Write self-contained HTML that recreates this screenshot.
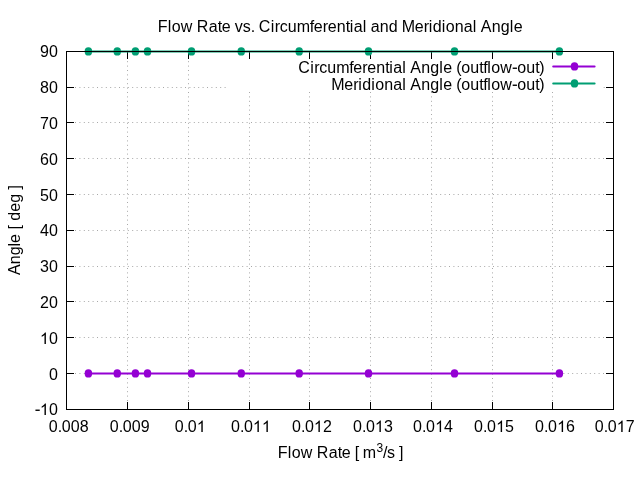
<!DOCTYPE html>
<html><head><meta charset="utf-8"><style>
html,body{margin:0;padding:0;background:#fff;}
svg{display:block;will-change:transform;}
text{font-kerning:none;}
</style></head><body>
<svg width="640" height="480" viewBox="0 0 640 480">
<rect width="640" height="480" fill="#fff"/>
<g stroke="#a8a8a8" stroke-width="1" stroke-dasharray="1 3.4"><line x1="127.5" y1="409.8" x2="127.5" y2="51"/><line x1="188.5" y1="409.8" x2="188.5" y2="51"/><line x1="249.5" y1="409.8" x2="249.5" y2="92"/><line x1="309.5" y1="409.8" x2="309.5" y2="92"/><line x1="370.5" y1="409.8" x2="370.5" y2="92"/><line x1="431.5" y1="409.8" x2="431.5" y2="92"/><line x1="492.5" y1="409.8" x2="492.5" y2="92"/><line x1="552.5" y1="409.8" x2="552.5" y2="92"/><line x1="66.2" y1="373.5" x2="613" y2="373.5"/><line x1="66.2" y1="337.5" x2="613" y2="337.5"/><line x1="66.2" y1="301.5" x2="613" y2="301.5"/><line x1="66.2" y1="266.5" x2="613" y2="266.5"/><line x1="66.2" y1="230.5" x2="613" y2="230.5"/><line x1="66.2" y1="194.5" x2="613" y2="194.5"/><line x1="66.2" y1="158.5" x2="613" y2="158.5"/><line x1="66.2" y1="122.5" x2="613" y2="122.5"/><line x1="66.2" y1="87.5" x2="226.2" y2="87.5"/><line x1="603.7" y1="87.5" x2="606" y2="87.5"/></g>
<g stroke="#000" stroke-width="1"><line x1="66.5" y1="410" x2="66.5" y2="402"/><line x1="66.5" y1="51" x2="66.5" y2="59"/><line x1="127.5" y1="410" x2="127.5" y2="402"/><line x1="127.5" y1="51" x2="127.5" y2="59"/><line x1="188.5" y1="410" x2="188.5" y2="402"/><line x1="188.5" y1="51" x2="188.5" y2="59"/><line x1="249.5" y1="410" x2="249.5" y2="402"/><line x1="249.5" y1="51" x2="249.5" y2="59"/><line x1="309.5" y1="410" x2="309.5" y2="402"/><line x1="309.5" y1="51" x2="309.5" y2="59"/><line x1="370.5" y1="410" x2="370.5" y2="402"/><line x1="370.5" y1="51" x2="370.5" y2="59"/><line x1="431.5" y1="410" x2="431.5" y2="402"/><line x1="431.5" y1="51" x2="431.5" y2="59"/><line x1="492.5" y1="410" x2="492.5" y2="402"/><line x1="492.5" y1="51" x2="492.5" y2="59"/><line x1="552.5" y1="410" x2="552.5" y2="402"/><line x1="552.5" y1="51" x2="552.5" y2="59"/><line x1="613.5" y1="410" x2="613.5" y2="402"/><line x1="613.5" y1="51" x2="613.5" y2="59"/><line x1="66" y1="409.5" x2="74" y2="409.5"/><line x1="614" y1="409.5" x2="606" y2="409.5"/><line x1="66" y1="373.5" x2="74" y2="373.5"/><line x1="614" y1="373.5" x2="606" y2="373.5"/><line x1="66" y1="337.5" x2="74" y2="337.5"/><line x1="614" y1="337.5" x2="606" y2="337.5"/><line x1="66" y1="301.5" x2="74" y2="301.5"/><line x1="614" y1="301.5" x2="606" y2="301.5"/><line x1="66" y1="266.5" x2="74" y2="266.5"/><line x1="614" y1="266.5" x2="606" y2="266.5"/><line x1="66" y1="230.5" x2="74" y2="230.5"/><line x1="614" y1="230.5" x2="606" y2="230.5"/><line x1="66" y1="194.5" x2="74" y2="194.5"/><line x1="614" y1="194.5" x2="606" y2="194.5"/><line x1="66" y1="158.5" x2="74" y2="158.5"/><line x1="614" y1="158.5" x2="606" y2="158.5"/><line x1="66" y1="122.5" x2="74" y2="122.5"/><line x1="614" y1="122.5" x2="606" y2="122.5"/><line x1="66" y1="87.5" x2="74" y2="87.5"/><line x1="614" y1="87.5" x2="606" y2="87.5"/><line x1="66" y1="51.5" x2="74" y2="51.5"/><line x1="614" y1="51.5" x2="606" y2="51.5"/></g>
<line x1="88.4" y1="373.5" x2="559.4" y2="373.5" stroke="#9400d3" stroke-width="2"/>
<ellipse cx="88.4" cy="373.4" rx="3.75" ry="4.2" fill="#9400d3"/><ellipse cx="117.25" cy="373.4" rx="3.75" ry="4.2" fill="#9400d3"/><ellipse cx="135.4" cy="373.4" rx="3.75" ry="4.2" fill="#9400d3"/><ellipse cx="147.5" cy="373.4" rx="3.75" ry="4.2" fill="#9400d3"/><ellipse cx="191.5" cy="373.4" rx="3.75" ry="4.2" fill="#9400d3"/><ellipse cx="241.25" cy="373.4" rx="3.75" ry="4.2" fill="#9400d3"/><ellipse cx="299.2" cy="373.4" rx="3.75" ry="4.2" fill="#9400d3"/><ellipse cx="368.5" cy="373.4" rx="3.75" ry="4.2" fill="#9400d3"/><ellipse cx="454.5" cy="373.4" rx="3.75" ry="4.2" fill="#9400d3"/><ellipse cx="559.4" cy="373.4" rx="3.75" ry="4.2" fill="#9400d3"/>
<line x1="88.4" y1="51.5" x2="559.4" y2="51.5" stroke="#009e73" stroke-width="2"/>
<ellipse cx="88.4" cy="51.4" rx="3.75" ry="4.2" fill="#009e73"/><ellipse cx="117.25" cy="51.4" rx="3.75" ry="4.2" fill="#009e73"/><ellipse cx="135.4" cy="51.4" rx="3.75" ry="4.2" fill="#009e73"/><ellipse cx="147.5" cy="51.4" rx="3.75" ry="4.2" fill="#009e73"/><ellipse cx="191.5" cy="51.4" rx="3.75" ry="4.2" fill="#009e73"/><ellipse cx="241.25" cy="51.4" rx="3.75" ry="4.2" fill="#009e73"/><ellipse cx="299.2" cy="51.4" rx="3.75" ry="4.2" fill="#009e73"/><ellipse cx="368.5" cy="51.4" rx="3.75" ry="4.2" fill="#009e73"/><ellipse cx="454.5" cy="51.4" rx="3.75" ry="4.2" fill="#009e73"/><ellipse cx="559.4" cy="51.4" rx="3.75" ry="4.2" fill="#009e73"/>
<rect x="66.5" y="51.5" width="547" height="358" fill="none" stroke="#000" stroke-width="1"/>
<line x1="553.2" y1="66.4" x2="594.6" y2="66.4" stroke="#9400d3" stroke-width="2" stroke-linecap="round"/><ellipse cx="574.5" cy="66.4" rx="3.75" ry="4.2" fill="#9400d3"/>
<line x1="553.2" y1="83.4" x2="594.6" y2="83.4" stroke="#009e73" stroke-width="2" stroke-linecap="round"/><ellipse cx="574.5" cy="83.4" rx="3.75" ry="4.2" fill="#009e73"/>
<g font-family="Liberation Sans, sans-serif" font-size="16" fill="#000"><text x="157.69 167.69 171.69 180.69 192.69 196.69 208.69 217.69 221.69 230.69 234.69 242.69 250.69 254.69 258.69 270.69 274.69 279.69 287.69 296.69 309.69 313.69 322.69 327.69 336.69 345.69 349.69 353.69 362.69 366.69 370.69 379.69 388.69 397.69 401.69 414.69 423.69 428.69 432.69 441.69 445.69 454.69 463.69 472.69 476.69 480.69 491.69 500.69 509.69 513.69" y="32" >Flow Rate vs. Circumferential and Meridional Angle</text><text x="298.16 310.16 314.16 319.16 327.16 336.16 349.16 353.16 362.16 367.16 376.16 385.16 389.16 393.16 402.16 406.16 410.16 421.16 430.16 439.16 443.16 452.16 456.16 461.16 470.16 479.16 483.16 487.16 491.16 500.16 517.16 526.16 535.16 539.16" y="73" >Circumferential Angle (outflowout)</text><path transform="matrix(0.0078125 0 0 -0.0078125 512.16 73)" d="M65 520L614 520L614 697L65 697Z"/><text x="331.16 344.16 353.16 358.16 362.16 371.16 375.16 384.16 393.16 402.16 406.16 410.16 421.16 430.16 439.16 443.16 452.16 456.16 461.16 470.16 479.16 483.16 487.16 491.16 500.16 517.16 526.16 535.16 539.16" y="90" >Meridional Angle (outflowout)</text><path transform="matrix(0.0078125 0 0 -0.0078125 512.16 90)" d="M65 520L614 520L614 697L65 697Z"/><text x="48.93" y="415" >0</text><path transform="matrix(0.0078125 0 0 -0.0078125 34.93 415)" d="M65 520L614 520L614 697L65 697Z"/><path transform="matrix(0.0078125 0 0 -0.0078125 39.93 415)" d="M763 0L583 0L583 1147Q518 1085 412 1023Q306 961 221 930L221 1104Q372 1175 485 1276Q598 1377 645 1472L763 1472Z"/><text x="48.93" y="380" >0</text><text x="48.93" y="344" >0</text><path transform="matrix(0.0078125 0 0 -0.0078125 39.93 344)" d="M763 0L583 0L583 1147Q518 1085 412 1023Q306 961 221 930L221 1104Q372 1175 485 1276Q598 1377 645 1472L763 1472Z"/><text x="39.93 48.93" y="308" >20</text><text x="39.93 48.93" y="272" >30</text><text x="39.93 48.93" y="236" >40</text><text x="39.93 48.93" y="201" >50</text><text x="39.93 48.93" y="165" >60</text><text x="39.93 48.93" y="129" >70</text><text x="39.93 48.93" y="93" >80</text><text x="39.93 48.93" y="57" >90</text><text x="48.67 57.67 61.67 70.67 79.67" y="432" >0.008</text><text x="109.67 118.67 122.67 131.68 140.68" y="432" >0.009</text><text x="174.78 183.78 187.78" y="432" >0.0</text><path transform="matrix(0.0078125 0 0 -0.0078125 196.78 432)" d="M763 0L583 0L583 1147Q518 1085 412 1023Q306 961 221 930L221 1104Q372 1175 485 1276Q598 1377 645 1472L763 1472Z"/><text x="230.88 239.88 243.88" y="432" >0.0</text><path transform="matrix(0.0078125 0 0 -0.0078125 252.88 432)" d="M763 0L583 0L583 1147Q518 1085 412 1023Q306 961 221 930L221 1104Q372 1175 485 1276Q598 1377 645 1472L763 1472Z"/><path transform="matrix(0.0078125 0 0 -0.0078125 261.88 432)" d="M763 0L583 0L583 1147Q518 1085 412 1023Q306 961 221 930L221 1104Q372 1175 485 1276Q598 1377 645 1472L763 1472Z"/><text x="291.88 300.88 304.88 322.88" y="432" >0.02</text><path transform="matrix(0.0078125 0 0 -0.0078125 313.88 432)" d="M763 0L583 0L583 1147Q518 1085 412 1023Q306 961 221 930L221 1104Q372 1175 485 1276Q598 1377 645 1472L763 1472Z"/><text x="352.88 361.88 365.88 383.88" y="432" >0.03</text><path transform="matrix(0.0078125 0 0 -0.0078125 374.88 432)" d="M763 0L583 0L583 1147Q518 1085 412 1023Q306 961 221 930L221 1104Q372 1175 485 1276Q598 1377 645 1472L763 1472Z"/><text x="413.12 422.12 426.12 444.12" y="432" >0.04</text><path transform="matrix(0.0078125 0 0 -0.0078125 435.12 432)" d="M763 0L583 0L583 1147Q518 1085 412 1023Q306 961 221 930L221 1104Q372 1175 485 1276Q598 1377 645 1472L763 1472Z"/><text x="474.12 483.12 487.12 505.12" y="432" >0.05</text><path transform="matrix(0.0078125 0 0 -0.0078125 496.12 432)" d="M763 0L583 0L583 1147Q518 1085 412 1023Q306 961 221 930L221 1104Q372 1175 485 1276Q598 1377 645 1472L763 1472Z"/><text x="535.12 544.12 548.12 566.12" y="432" >0.06</text><path transform="matrix(0.0078125 0 0 -0.0078125 557.12 432)" d="M763 0L583 0L583 1147Q518 1085 412 1023Q306 961 221 930L221 1104Q372 1175 485 1276Q598 1377 645 1472L763 1472Z"/><text x="594.67 603.67 607.67 625.67" y="432" >0.07</text><path transform="matrix(0.0078125 0 0 -0.0078125 616.67 432)" d="M763 0L583 0L583 1147Q518 1085 412 1023Q306 961 221 930L221 1104Q372 1175 485 1276Q598 1377 645 1472L763 1472Z"/><text x="277.69 287.69 291.69 300.69 312.69 316.69 328.69 337.69 341.69 350.69 354.69 358.69 362.69" y="458" >Flow Rate [ m</text><text x="376.44" y="451.5" font-size="12">3</text><text x="382.90 386.90 394.90 398.90" y="458" >/s ]</text><text transform="translate(20,230) rotate(-90)" text-anchor="middle">Angle [ deg ]</text></g>
</svg>
</body></html>
